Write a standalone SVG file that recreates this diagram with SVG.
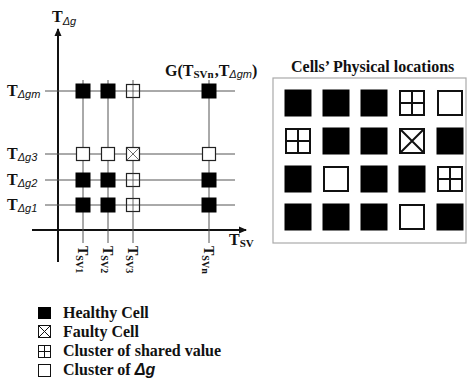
<svg xmlns="http://www.w3.org/2000/svg" width="468" height="381" viewBox="0 0 468 381">
<defs>
<style>
.grid{stroke:#555;stroke-width:1;fill:none}
.axis{stroke:#111;stroke-width:2;fill:none}
.b{fill:#000;stroke:#000;stroke-width:1}
.w{fill:#fff;stroke:#222;stroke-width:1.2}
.pc{stroke:#444;stroke-width:0.8;fill:none}
.W{fill:#fff;stroke:#111;stroke-width:2}
.B{fill:#000;stroke:#000;stroke-width:1}
.PC{stroke:#111;stroke-width:2;fill:none}
.ser{font-family:"Liberation Serif",serif;font-weight:bold;fill:#111}
.sub{font-family:"Liberation Sans",sans-serif;font-style:italic;fill:#111}
</style>
<marker id="arr" markerWidth="8" markerHeight="8" refX="7" refY="4" orient="auto" markerUnits="userSpaceOnUse">
<path d="M0,0.5 L8,4 L0,7.5 Z" fill="#111"/>
</marker>
<g id="cB"><rect x="-7" y="-7" width="14" height="14" class="b"/></g>
<g id="cW"><rect x="-6.5" y="-6.5" width="13" height="13" class="w"/></g>
<g id="cP"><rect x="-6.5" y="-6.5" width="13" height="13" class="w" stroke="#555"/><path d="M0,-6.5V6.5M-6.5,0H6.5" class="pc" stroke="#999"/></g>
<g id="cX"><rect x="-6.5" y="-6.5" width="13" height="13" class="w"/><path d="M-6.5,-6.5L6.5,6.5M6.5,-6.5L-6.5,6.5" class="pc"/></g>
<g id="LB"><rect x="0" y="0" width="26" height="26" class="B"/></g>
<g id="LW"><rect x="1" y="1" width="24" height="24" class="W"/></g>
<g id="LP"><rect x="1" y="1" width="24" height="24" class="W"/><path d="M13,1V25M1,13H25" class="PC"/></g>
<g id="LX"><rect x="1" y="1" width="24" height="24" class="W"/><path d="M1,1L25,25M25,1L1,25" class="PC" stroke-width="1.5"/></g>
</defs>

<g id="connectors">
<line x1="58" y1="262" x2="58" y2="29" class="axis" marker-end="url(#arr)"/>
<line x1="32" y1="230" x2="246" y2="230" class="axis" marker-end="url(#arr)"/>
<g class="grid">
<line x1="45" y1="91" x2="235" y2="91"/>
<line x1="45" y1="154" x2="235" y2="154"/>
<line x1="45" y1="180" x2="235" y2="180"/>
<line x1="45" y1="205" x2="235" y2="205"/>
<line x1="83" y1="80" x2="83" y2="243"/>
<line x1="108" y1="80" x2="108" y2="243"/>
<line x1="133" y1="80" x2="133" y2="243"/>
<line x1="209" y1="80" x2="209" y2="243"/>
</g>
</g>

<g id="axis-labels">
<text x="52" y="22" class="ser" font-size="16">T<tspan class="sub" font-weight="normal" font-size="11" dy="3">Δg</tspan></text>
<text x="229" y="245" class="ser" font-size="16">T<tspan font-size="11" dy="2">SV</tspan></text>
<text x="7" y="96" class="ser" font-size="16">T<tspan class="sub" font-weight="normal" font-size="11" dy="2">Δgm</tspan></text>
<text x="7" y="159" class="ser" font-size="16">T<tspan class="sub" font-weight="normal" font-size="11" dy="2">Δg3</tspan></text>
<text x="7" y="185" class="ser" font-size="16">T<tspan class="sub" font-weight="normal" font-size="11" dy="2">Δg2</tspan></text>
<text x="7" y="210" class="ser" font-size="16">T<tspan class="sub" font-weight="normal" font-size="11" dy="2">Δg1</tspan></text>
<text transform="translate(78,246) rotate(90)" class="ser" font-size="14">T<tspan font-size="10" dy="2">SV1</tspan></text>
<text transform="translate(103,246) rotate(90)" class="ser" font-size="14">T<tspan font-size="10" dy="2">SV2</tspan></text>
<text transform="translate(128,246) rotate(90)" class="ser" font-size="14">T<tspan font-size="10" dy="2">SV3</tspan></text>
<text transform="translate(204,246) rotate(90)" class="ser" font-size="14">T<tspan font-size="10" dy="2">SVn</tspan></text>
<text x="165" y="76" class="ser" font-size="16">G(T<tspan font-size="11" dy="2">SVn</tspan><tspan dy="-2" dx="1">,T</tspan><tspan class="sub" font-weight="normal" font-size="11" dy="2">Δgm</tspan><tspan dy="-2">)</tspan></text>
</g>

<g id="graph-cells">
<use href="#cB" x="83" y="91"/><use href="#cB" x="108" y="91"/><use href="#cP" x="133" y="91"/><use href="#cB" x="209" y="91"/>
<use href="#cW" x="83" y="154"/><use href="#cW" x="108" y="154"/><use href="#cX" x="133" y="154"/><use href="#cW" x="209" y="154"/>
<use href="#cB" x="83" y="180"/><use href="#cB" x="108" y="180"/><use href="#cP" x="133" y="180"/><use href="#cB" x="209" y="180"/>
<use href="#cB" x="83" y="205"/><use href="#cB" x="108" y="205"/><use href="#cP" x="133" y="205"/><use href="#cB" x="209" y="205"/>
</g>

<g id="physical-locations">
<text x="291" y="72" class="ser" font-size="16">Cells’ Physical locations</text>
<rect x="273" y="78" width="193" height="165" fill="#fff" stroke="#aaa" stroke-width="1.2"/>
<use href="#LB" x="285" y="90"/><use href="#LB" x="323" y="90"/><use href="#LB" x="361" y="90"/><use href="#LP" x="399" y="90"/><use href="#LW" x="437" y="90"/>
<use href="#LP" x="285" y="128"/><use href="#LB" x="323" y="128"/><use href="#LB" x="361" y="128"/><use href="#LX" x="399" y="128"/><use href="#LB" x="437" y="128"/>
<use href="#LB" x="285" y="166"/><use href="#LW" x="323" y="166"/><use href="#LB" x="361" y="166"/><use href="#LB" x="399" y="166"/><use href="#LP" x="437" y="166"/>
<use href="#LB" x="285" y="204"/><use href="#LB" x="323" y="204"/><use href="#LB" x="361" y="204"/><use href="#LW" x="399" y="204"/><use href="#LB" x="437" y="204"/>
</g>

<g id="legend">
<rect x="38" y="307" width="13" height="12" fill="#000"/>
<text x="63" y="318" class="ser" font-size="16">Healthy Cell</text>
<rect x="38.5" y="325.5" width="12" height="12" fill="#fff" stroke="#111" stroke-width="1"/>
<path d="M38.5,325.5L50.5,337.5M50.5,325.5L38.5,337.5" stroke="#111" stroke-width="1"/>
<text x="63" y="337" class="ser" font-size="16">Faulty Cell</text>
<rect x="38.5" y="345.5" width="12" height="12" fill="#fff" stroke="#111" stroke-width="1"/>
<path d="M44.5,345.5V357.5M38.5,351.5H50.5" stroke="#111" stroke-width="1"/>
<text x="63" y="356" class="ser" font-size="16">Cluster of shared value</text>
<rect x="38.5" y="364.5" width="12" height="12" fill="#fff" stroke="#111" stroke-width="1"/>
<text x="63" y="375" class="ser" font-size="16">Cluster of <tspan font-family="Liberation Sans,sans-serif" font-style="italic">Δg</tspan></text>
</g>
</svg>
